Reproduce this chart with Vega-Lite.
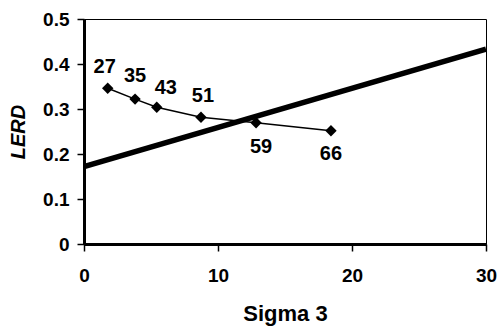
{
  "$schema": "https://vega.github.io/schema/vega-lite/v6.json",
  "width": 402,
  "height": 225,
  "autosize": {"type": "none"},
  "padding": {"left": 84, "top": 19, "right": 13, "bottom": 88},
  "background": "#ffffff",
  "config": {
    "view": {"stroke": "#000000", "strokeWidth": 1},
    "font": "Liberation Sans",
    "axis": {"grid": false, "domainColor": "#000000", "tickColor": "#000000", "labelColor": "#000000", "titleColor": "#000000"}
  },
  "datasets": {
    "pts": [
      {"sigma3": 1.77, "lerd": 0.346, "label": "27"},
      {"sigma3": 3.81, "lerd": 0.322, "label": "35"},
      {"sigma3": 5.43, "lerd": 0.304, "label": "43"},
      {"sigma3": 8.73, "lerd": 0.2815, "label": "51"},
      {"sigma3": 12.84, "lerd": 0.2695, "label": "59"},
      {"sigma3": 18.43, "lerd": 0.2518, "label": "66"}
    ],
    "trend": [
      {"sigma3": 0, "lerd": 0.172},
      {"sigma3": 30, "lerd": 0.433}
    ]
  },
  "encoding": {
    "x": {
      "field": "sigma3", "type": "quantitative",
      "scale": {"domain": [0, 30], "nice": false, "zero": false},
      "axis": {
        "values": [0, 10, 20, 30], "title": "Sigma 3",
        "labelFontSize": 19, "labelFontWeight": "bold", "labelPadding": 15,
        "titleFontSize": 22, "titleFontWeight": "bold", "titlePadding": 18,
        "domainWidth": 3, "tickSize": 7, "tickWidth": 1.5, "labelFlush": false
      }
    },
    "y": {
      "field": "lerd", "type": "quantitative",
      "scale": {"domain": [0, 0.5], "nice": false},
      "axis": {
        "values": [0, 0.1, 0.2, 0.3, 0.4, 0.5], "title": "LERD",
        "labelExpr": "datum.value == 0 ? '0' : format(datum.value, '.1f')",
        "labelFontSize": 19, "labelFontWeight": "bold", "labelPadding": 8,
        "titleFontSize": 20, "titleFontWeight": "bold", "titleFontStyle": "italic", "titlePadding": 14,
        "domainWidth": 3, "tickSize": 7, "tickWidth": 1.5
      }
    }
  },
  "layer": [
    {
      "data": {"name": "trend"},
      "mark": {"type": "line", "color": "#000000", "strokeWidth": 5.5, "clip": true}
    },
    {
      "data": {"name": "pts"},
      "mark": {"type": "line", "color": "#000000", "strokeWidth": 1.5,
        "point": {"shape": "diamond", "size": 130, "filled": true, "color": "#000000", "opacity": 1}}
    },
    {
      "data": {"name": "pts"},
      "transform": [{"filter": {"field": "label", "oneOf": ["27"]}}],
      "mark": {"type": "text", "fontSize": 20, "fontWeight": "bold", "baseline": "middle", "dx": -3, "dy": -21, "color": "#000000"},
      "encoding": {"text": {"field": "label"}}
    },
    {
      "data": {"name": "pts"},
      "transform": [{"filter": {"field": "label", "oneOf": ["35"]}}],
      "mark": {"type": "text", "fontSize": 20, "fontWeight": "bold", "baseline": "middle", "dx": 0, "dy": -23, "color": "#000000"},
      "encoding": {"text": {"field": "label"}}
    },
    {
      "data": {"name": "pts"},
      "transform": [{"filter": {"field": "label", "oneOf": ["43"]}}],
      "mark": {"type": "text", "fontSize": 20, "fontWeight": "bold", "baseline": "middle", "dx": 9, "dy": -19, "color": "#000000"},
      "encoding": {"text": {"field": "label"}}
    },
    {
      "data": {"name": "pts"},
      "transform": [{"filter": {"field": "label", "oneOf": ["51"]}}],
      "mark": {"type": "text", "fontSize": 20, "fontWeight": "bold", "baseline": "middle", "dx": 2, "dy": -21, "color": "#000000"},
      "encoding": {"text": {"field": "label"}}
    },
    {
      "data": {"name": "pts"},
      "transform": [{"filter": {"field": "label", "oneOf": ["59"]}}],
      "mark": {"type": "text", "fontSize": 20, "fontWeight": "bold", "baseline": "middle", "dx": 5, "dy": 24, "color": "#000000"},
      "encoding": {"text": {"field": "label"}}
    },
    {
      "data": {"name": "pts"},
      "transform": [{"filter": {"field": "label", "oneOf": ["66"]}}],
      "mark": {"type": "text", "fontSize": 20, "fontWeight": "bold", "baseline": "middle", "dx": 0, "dy": 23, "color": "#000000"},
      "encoding": {"text": {"field": "label"}}
    }
  ]
}
